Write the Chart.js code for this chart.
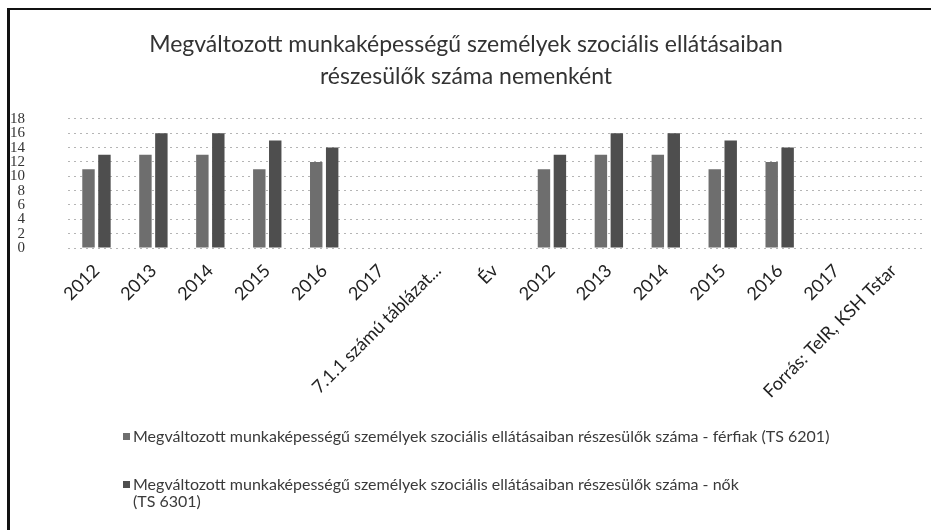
<!DOCTYPE html>
<html>
<head>
<meta charset="utf-8">
<script src="https://cdn.jsdelivr.net/npm/chart.js@4/dist/chart.umd.min.js"></script>
<style>
  html, body { margin: 0; padding: 0; background: #fff; }
  #wrap { position: relative; width: 931px; height: 530px; overflow: hidden; }
  #frame { position: absolute; left: 7px; top: 8px; right: -10px; bottom: -10px;
           border-left: 3px solid #111; border-top: 2px solid #111; pointer-events: none; }
  canvas { position: absolute; left: 0; top: 0; }
</style>
</head>
<body>
<div id="wrap">
  <canvas id="chart" width="931" height="530"></canvas>
  <div id="frame"></div>
</div>
<script>
// kategóriák (évek + a táblázat fejléc/forrás cellái)
const categories = ['2012', '2013', '2014', '2015', '2016', '2017', '7.1.1 számú táblázat...', 'Év',
                    '2012', '2013', '2014', '2015', '2016', '2017', 'Forrás: TeIR, KSH Tstar'];

// ezer fő
const ferfiak = [11, 13, 13, 11, 12, null, null, null, 11, 13, 13, 11, 12, null, null];
const nok     = [13, 16, 16, 15, 14, null, null, null, 13, 16, 16, 15, 14, null, null];

const yTicks = [0, 2, 4, 6, 8, 10, 12, 14, 16, 18];

const titleLines = ['Megváltozott munkaképességű személyek szociális ellátásaiban',
                    'részesülők száma nemenként'];

// jelmagyarázat sorai (a második tördelve)
const legendLines = [
  ['Megváltozott munkaképességű személyek szociális ellátásaiban részesülők száma - férfiak (TS 6201)'],
  ['Megváltozott munkaképességű személyek szociális ellátásaiban részesülők száma - nők', '(TS 6301)']
];

const colors = ['#6e6e6e', '#4e4e4e'];

// saját jelmagyarázat a grafikon alá, balra igazítva
const bottomLegend = {
  id: 'bottomLegend',
  afterDraw(chart) {
    const ctx = chart.ctx;
    const rowY = [437, 485];
    ctx.save();
    ctx.font = '16px Lato';
    ctx.textBaseline = 'middle';
    chart.data.datasets.forEach((ds, i) => {
      ctx.fillStyle = ds.backgroundColor;
      ctx.fillRect(123, rowY[i] - 4, 7, 7);
      ctx.fillStyle = '#3a3a3a';
      legendLines[i].forEach((t, k) => ctx.fillText(t, 133, rowY[i] + k * 17));
    });
    ctx.restore();
  }
};

const ctx = document.getElementById('chart').getContext('2d');
const chart = new Chart(ctx, {
  type: 'bar',
  data: {
    labels: categories,
    datasets: [
      { label: legendLines[0].join(' '), data: ferfiak, backgroundColor: colors[0],
        categoryPercentage: 0.56, barPercentage: 0.78 },
      { label: legendLines[1].join(' '), data: nok, backgroundColor: colors[1],
        categoryPercentage: 0.56, barPercentage: 0.78 }
    ]
  },
  options: {
    responsive: false,
    animation: false,
    layout: { padding: { left: 10, right: 9, top: 0, bottom: 130 } },
    plugins: {
      legend: { display: false },
      tooltip: { enabled: false },
      title: {
        display: true,
        text: titleLines,
        color: '#333',
        font: { family: 'Lato', size: 23, weight: 'normal', lineHeight: 1.39 },
        padding: { top: 29, bottom: 26 }
      }
    },
    scales: {
      x: {
        grid: { display: false },
        border: { display: false },
        ticks: {
          autoSkip: false, maxRotation: 45, minRotation: 45,
          color: '#222', padding: 4,
          font: { family: 'Lato', size: 18 }
        },
        afterFit(scale) { scale.height = 152; }
      },
      y: {
        min: 0, max: 18,
        afterBuildTicks(scale) { scale.ticks = yTicks.map(v => ({ value: v })); },
        grid: { color: '#b5b5b5', drawTicks: false },
        border: { display: false, dash: [2, 4] },
        ticks: {
          autoSkip: false,
          color: '#333', padding: 43,
          font: { family: 'Liberation Serif', size: 15 }
        },
        afterFit(scale) { scale.width = 58; }
      }
    }
  },
  plugins: [bottomLegend]
});
</script>
</body>
</html>
